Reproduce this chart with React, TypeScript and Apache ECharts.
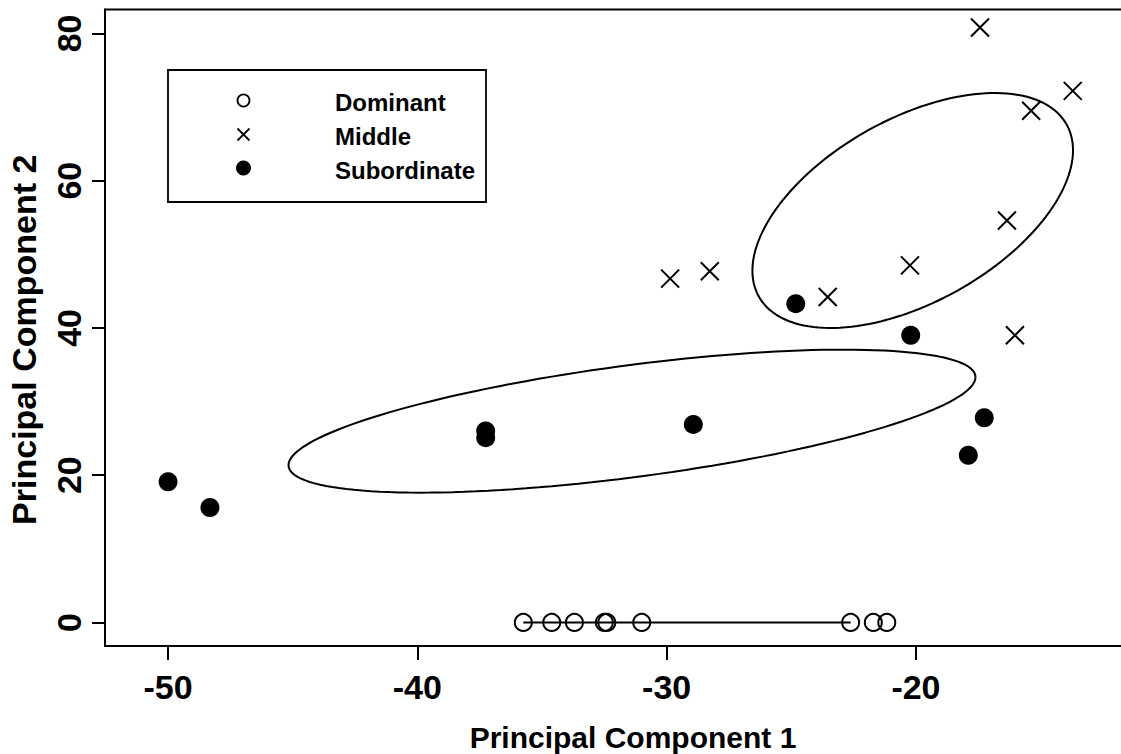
import React, { useEffect, useRef } from "react";
import * as echarts from "echarts";

// ---- data ----
const dominantX = [-35.75, -34.61, -33.7, -32.5, -32.4, -31.0, -22.62, -21.71, -21.17];
const dominantY = [0, 0, 0, 0, 0, 0, 0, 0, 0];
const middleX = [-29.86, -28.27, -23.54, -20.24, -16.35, -16.03, -15.38, -13.71, -17.43];
const middleY = [46.7, 47.7, 44.2, 48.5, 54.6, 39.0, 69.5, 72.2, 80.8];
const subX = [-50.0, -48.32, -37.26, -37.26, -28.93, -24.82, -20.21, -17.26, -17.9];
const subY = [19.1, 15.6, 26.0, 25.1, 26.9, 43.3, 39.0, 27.8, 22.7];

// Dominant group's (degenerate) range segment at PC2 = 0
const dominantSegX = [-35.75, -22.62];
const dominantSegY = [0, 0];

// ellipses: [centre x, centre y, var x, var y, cov xy]
const ellipseLower = [-31.39, 27.34, 189.85, 94.3, 82.34];
const ellipseUpper = [-20.13, 55.95, 41.35, 254.7, 52.57];

const xTicks = [-50, -40, -30, -20];
const yTicks = [0, 20, 40, 60, 80];
const xRange = [-52.53, -10.17];
const yRange = [-3.2, 83.25];

const legendNames = ["Dominant", "Middle", "Subordinate"];

const FONT = "Liberation Sans, Arial, Helvetica, sans-serif";
const X_PATH = "path://M0,0L20,20M20,0L0,20";

function zip(xs: number[], ys: number[]) {
  return xs.map((x, i) => [x, ys[i]]);
}

function ellipsePoints(p: number[]) {
  const [cx, cy, sxx, syy, sxy] = p;
  const l11 = Math.sqrt(sxx);
  const l21 = sxy / l11;
  const l22 = Math.sqrt(syy - l21 * l21);
  const pts: number[][] = [];
  const n = 160;
  for (let i = 0; i <= n; i++) {
    const t = (i / n) * 2 * Math.PI;
    const c = Math.cos(t);
    const s = Math.sin(t);
    pts.push([cx + l11 * c, cy + l21 * c + l22 * s]);
  }
  return pts;
}

export default function App() {
  const ref = useRef<HTMLDivElement>(null);

  useEffect(() => {
    if (!ref.current) return;
    const chart = echarts.init(ref.current, null, { renderer: "svg" });

    const legX = 243.5;
    const legTextX = 335;
    const legRows = [100.5, 134.5, 168];

    const option: any = {
      animation: false,
      backgroundColor: "#fff",
      grid: {
        left: 105,
        top: 9.5,
        right: -40,
        bottom: 108,
        show: true,
        borderColor: "#000",
        borderWidth: 2,
        backgroundColor: "transparent",
        containLabel: false,
        outerBoundsMode: "none",
      },
      xAxis: {
        type: "value",
        min: xRange[0],
        max: xRange[1],
        splitLine: { show: false },
        axisLine: { show: true, onZero: false, lineStyle: { color: "#000", width: 2 } },
        axisTick: {
          show: true,
          length: 14,
          customValues: xTicks,
          lineStyle: { color: "#000", width: 2 },
        },
        axisLabel: {
          customValues: xTicks,
          color: "#000",
          fontSize: 34,
          fontWeight: "bold",
          fontFamily: FONT,
          margin: 24,
        },
        name: "Principal Component 1",
        nameLocation: "middle",
        nameGap: 76,
        nameTextStyle: { color: "#000", fontSize: 30, fontWeight: "bold", fontFamily: FONT },
      },
      yAxis: {
        type: "value",
        min: yRange[0],
        max: yRange[1],
        splitLine: { show: false },
        axisLine: { show: true, onZero: false, lineStyle: { color: "#000", width: 2 } },
        axisTick: {
          show: true,
          length: 13,
          customValues: yTicks,
          lineStyle: { color: "#000", width: 2 },
        },
        axisLabel: {
          customValues: yTicks,
          rotate: 90,
          color: "#000",
          fontSize: 34,
          fontWeight: "bold",
          fontFamily: FONT,
          margin: 19,
        },
        name: "Principal Component 2",
        nameLocation: "middle",
        nameGap: 64,
        nameTextStyle: {
          color: "#000",
          fontSize: 34,
          fontWeight: "bold",
          fontFamily: FONT,
          padding: [0, 24, 0, 0],
        },
      },
      series: [
        {
          type: "line",
          data: ellipsePoints(ellipseLower),
          showSymbol: false,
          symbol: "none",
          silent: true,
          lineStyle: { color: "#000", width: 2 },
          z: 2,
        },
        {
          type: "line",
          data: ellipsePoints(ellipseUpper),
          showSymbol: false,
          symbol: "none",
          silent: true,
          lineStyle: { color: "#000", width: 2 },
          z: 2,
        },
        {
          type: "line",
          data: zip(dominantSegX, dominantSegY),
          showSymbol: false,
          symbol: "none",
          silent: true,
          lineStyle: { color: "#000", width: 2 },
          z: 2,
        },
        {
          name: legendNames[0],
          type: "scatter",
          data: zip(dominantX, dominantY),
          symbol: "circle",
          symbolSize: 17,
          itemStyle: { color: "rgba(0,0,0,0)", borderColor: "#000", borderWidth: 2, opacity: 1 },
          z: 3,
        },
        {
          name: legendNames[1],
          type: "scatter",
          data: zip(middleX, middleY),
          symbol: X_PATH,
          symbolSize: 18,
          itemStyle: { color: "rgba(0,0,0,0)", borderColor: "#000", borderWidth: 2, opacity: 1 },
          z: 3,
        },
        {
          name: legendNames[2],
          type: "scatter",
          data: zip(subX, subY),
          symbol: "circle",
          symbolSize: 19,
          itemStyle: { color: "#000", opacity: 1 },
          z: 3,
        },
      ],
      graphic: [
        {
          type: "group",
          z: 10,
          children: [
            {
              type: "rect",
              shape: { x: 168, y: 70, width: 318, height: 132 },
              style: { fill: "#fff", stroke: "#000", lineWidth: 1.8 },
            },
            {
              type: "circle",
              shape: { cx: legX, cy: legRows[0], r: 6 },
              style: { fill: "none", stroke: "#000", lineWidth: 1.8 },
            },
            {
              type: "line",
              shape: { x1: legX - 6, y1: legRows[1] - 6, x2: legX + 6, y2: legRows[1] + 6 },
              style: { stroke: "#000", lineWidth: 1.8 },
            },
            {
              type: "line",
              shape: { x1: legX + 6, y1: legRows[1] - 6, x2: legX - 6, y2: legRows[1] + 6 },
              style: { stroke: "#000", lineWidth: 1.8 },
            },
            {
              type: "circle",
              shape: { cx: legX, cy: legRows[2], r: 7.5 },
              style: { fill: "#000" },
            },
            ...legendNames.map((n, i) => ({
              type: "text",
              x: legTextX,
              y: legRows[i] + 2,
              style: {
                text: n,
                fill: "#000",
                font: `bold 24px ${FONT}`,
                textAlign: "left",
                textVerticalAlign: "middle",
              },
            })),
          ],
        },
      ],
    };

    chart.setOption(option);
    return () => chart.dispose();
  }, []);

  return (
    <div
      ref={ref}
      style={{ position: "fixed", left: 0, top: 0, width: 1121, height: 754, background: "#fff" }}
    />
  );
}
